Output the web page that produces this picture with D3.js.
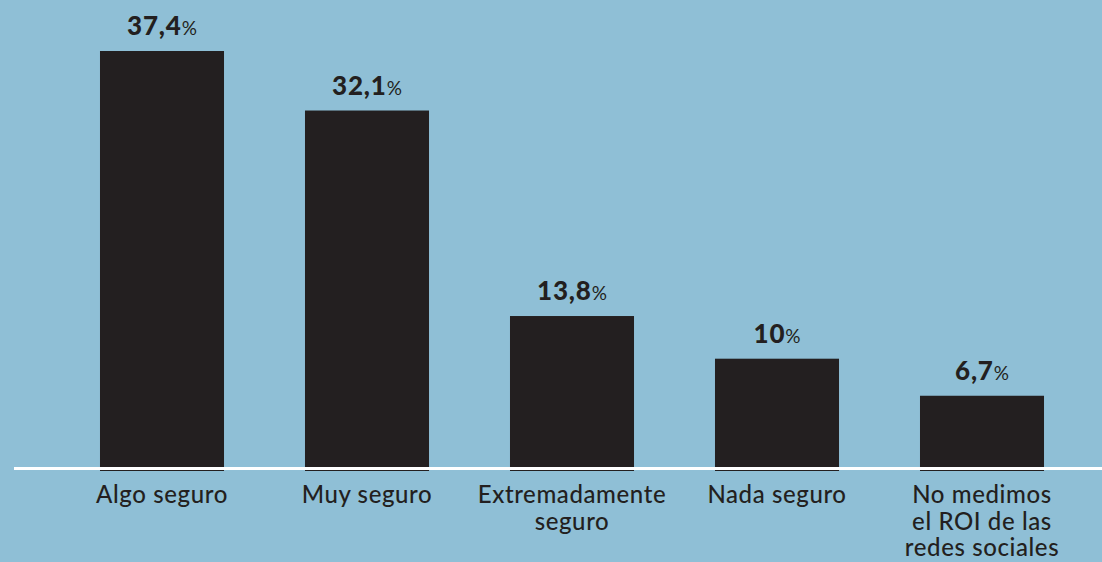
<!DOCTYPE html>
<html>
<head>
<meta charset="utf-8">
<script src="https://cdn.jsdelivr.net/npm/d3@7"></script>
<style>
  html, body { margin: 0; padding: 0; background: #8fbfd6; }
  svg { display: block; }
</style>
</head>
<body>
<div class="chart"></div>
<script>
// data
var categories = ["Algo seguro", "Muy seguro", "Extremadamente seguro", "Nada seguro", "No medimos el ROI de las redes sociales"];
var labelLines = [["Algo seguro"], ["Muy seguro"], ["Extremadamente", "seguro"], ["Nada seguro"], ["No medimos", "el ROI de las", "redes sociales"]];
var values = [37.4, 32.1, 13.8, 10, 6.7];
var valueLabels = ["37,4", "32,1", "13,8", "10", "6,7"];

var width = 1102, height = 562;
var baseY = 471;

var svg = d3.select(".chart").append("svg")
	.attr("width", width)
	.attr("height", height);

svg.append("rect")
	.attr("width", width).attr("height", height)
	.attr("fill", "#8fbfd6");

var x = d3.scaleBand()
	.domain(categories)
	.range([59.5, 1084.5])
	.paddingInner(0.395)
	.paddingOuter(0.1975);

var y = d3.scaleLinear()
	.domain([0, 37.4])
	.range([baseY, 51]);

// bars
svg.append("g").selectAll("rect")
	.data(values)
	.enter().append("rect")
	.attr("x", function (d, i) { return x(categories[i]); })
	.attr("y", function (d) { return y(d); })
	.attr("width", x.bandwidth())
	.attr("height", function (d) { return baseY - y(d); })
	.attr("fill", "#231f20");

// baseline
svg.append("line")
	.attr("x1", 14).attr("x2", width)
	.attr("y1", 468.5).attr("y2", 468.5)
	.attr("stroke", "#ffffff")
	.attr("stroke-width", 3);

// value labels
var vl = svg.append("g").selectAll("text")
	.data(values)
	.enter().append("text")
	.attr("x", function (d, i) { return x(categories[i]) + x.bandwidth() / 2; })
	.attr("y", function (d) { return y(d) - 16; })
	.attr("text-anchor", "middle")
	.attr("fill", "#231f20")
	.style("font-family", "Lato, 'DejaVu Sans', sans-serif");

vl.append("tspan")
	.style("font-size", "26px")
	.style("font-weight", "900")
	.style("letter-spacing", "0.8px")
	.text(function (d, i) { return valueLabels[i]; });
vl.append("tspan")
	.style("font-size", "19px")
	.style("font-weight", "400")
	.text("%");

// category labels
var cl = svg.append("g").selectAll("text")
	.data(labelLines)
	.enter().append("text")
	.attr("x", function (d, i) { return x(categories[i]) + x.bandwidth() / 2; })
	.attr("y", 503)
	.attr("text-anchor", "middle")
	.attr("fill", "#231f20")
	.style("font-family", "Lato, 'DejaVu Sans', sans-serif")
	.style("font-size", "24px")
	.style("font-weight", "500")
	.style("letter-spacing", "0.6px");

cl.selectAll("tspan")
	.data(function (d) { return d; })
	.enter().append("tspan")
	.attr("x", function () { return d3.select(this.parentNode).attr("x"); })
	.attr("dy", function (d, i) { return i === 0 ? 0 : 26.5; })
	.text(function (d) { return d; });
</script>
</body>
</html>
